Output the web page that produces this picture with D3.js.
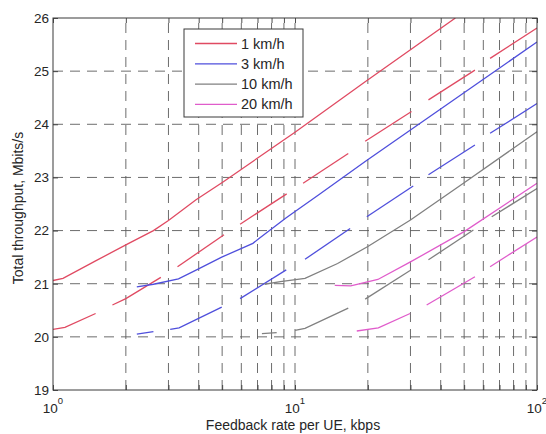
<!DOCTYPE html>
<html>
<head>
<meta charset="utf-8">
<script src="https://cdn.jsdelivr.net/npm/d3@7"></script>
<style>
  html, body { margin: 0; padding: 0; background: #fff; }
  svg { display: block; font-family: "Liberation Sans", Arial, Helvetica, sans-serif; }
</style>
</head>
<body>
<svg id="chart" width="546" height="434"></svg>
<script>
// ---- data -------------------------------------------------------------
const speeds = ["1 km/h", "3 km/h", "10 km/h", "20 km/h"];
const speedColors = ["#e04a62", "#4f4fdc", "#808080", "#e05ccb"];

const xMajorTicks = [1, 10, 100];
const xMinorTicks = [2, 3, 4, 5, 6, 7, 8, 9, 20, 30, 40, 50, 60, 70, 80, 90];
const yTicks = [19, 20, 21, 22, 23, 24, 25, 26];

// solid curves: [feedback rate kbps, throughput Mbit/s]
const solid1kmh = [[1.0, 21.06], [1.1, 21.10], [1.5, 21.43], [2.0, 21.73], [2.6, 22.0], [3.0, 22.19],
  [3.9, 22.58], [5.06, 22.92], [10, 23.85], [19.5, 24.80], [46, 26.0]];
const solid3kmh = [[2.22, 20.94], [2.6, 20.99], [3.3, 21.09], [3.92, 21.26], [4.98, 21.50], [6.7, 21.76],
  [7.1, 21.85], [9.2, 22.24], [12.5, 22.67], [19.5, 23.30], [100, 25.55]];
const solid10kmh = [[7.5, 20.99], [8.7, 21.04], [11.0, 21.10], [15, 21.38], [20, 21.70], [30, 22.2],
  [50, 22.9], [100, 23.86]];
const solid20kmh = [[14.6, 20.97], [17, 20.96], [22, 21.08], [30, 21.41], [50, 21.98], [100, 22.89]];

// dashed curves, stored as their visible pieces
const dashed1kmh = [
  [[1.0, 20.14], [1.12, 20.18], [1.5, 20.44]],
  [[1.76, 20.60], [2.0, 20.72], [2.79, 21.12]],
  [[3.27, 21.32], [5.09, 21.92]],
  [[5.93, 22.12], [9.24, 22.69]],
  [[10.8, 22.89], [16.6, 23.45]],
  [[19.5, 23.68], [30.3, 24.24]],
  [[35.6, 24.46], [55.4, 25.02]],
  [[64, 25.24], [100, 25.81]]
];
const dashed3kmh = [
  [[2.22, 20.05], [2.6, 20.10]],
  [[3.05, 20.14], [3.32, 20.17], [4.98, 20.56]],
  [[5.93, 20.72], [9.2, 21.26]],
  [[11.0, 21.46], [16.9, 22.04]],
  [[19.8, 22.26], [30.8, 22.84]],
  [[35.6, 23.05], [55.4, 23.61]],
  [[64, 23.83], [100, 24.39]]
];
const dashed10kmh = [
  [[7.3, 20.06], [8.4, 20.08]],
  [[10.0, 20.12], [11.0, 20.16], [16.6, 20.54]],
  [[19.5, 20.71], [29.9, 21.25]],
  [[35.6, 21.45], [54.6, 22.01]],
  [[65, 22.26], [100, 22.79]]
];
const dashed20kmh = [
  [[18.0, 20.11], [22.1, 20.17], [29.9, 20.44]],
  [[35, 20.60], [55.4, 21.13]],
  [[64, 21.32], [100, 21.88]]
];

const solidCurves = [solid1kmh, solid3kmh, solid10kmh, solid20kmh];
const dashedCurves = [dashed1kmh, dashed3kmh, dashed10kmh, dashed20kmh];

// ---- layout -----------------------------------------------------------
const margin = { left: 53, right: 9, top: 18, bottom: 44 };
const W = 546, H = 434;
const plotW = W - margin.left - margin.right;
const plotH = H - margin.top - margin.bottom;

const svg = d3.select("#chart");
svg.append("rect").attr("width", W).attr("height", H).attr("fill", "#fff");

const x = d3.scaleLog().domain([1, 100]).range([0, plotW]);
const y = d3.scaleLinear().domain([19, 26]).range([plotH, 0]);

const g = svg.append("g").attr("transform", `translate(${margin.left},${margin.top})`);

svg.append("defs").append("clipPath").attr("id", "plotclip")
  .append("rect").attr("width", plotW).attr("height", plotH);

// ---- grid -------------------------------------------------------------
const gridColor = "#5c5c5c";
const gridDash = "10,7";
const grid = g.append("g").attr("class", "grid");
grid.selectAll("line.vgrid")
  .data(xMajorTicks.concat(xMinorTicks).filter(v => v > 1 && v < 100))
  .join("line")
  .attr("class", "vgrid")
  .attr("x1", d => x(d)).attr("x2", d => x(d))
  .attr("y1", plotH).attr("y2", 0)
  .attr("stroke", gridColor).attr("stroke-width", 0.9)
  .attr("stroke-dasharray", gridDash);
grid.selectAll("line.hgrid")
  .data(yTicks.filter(v => v > 19 && v < 26))
  .join("line")
  .attr("class", "hgrid")
  .attr("x1", 0).attr("x2", plotW)
  .attr("y1", d => y(d)).attr("y2", d => y(d))
  .attr("stroke", gridColor).attr("stroke-width", 0.9)
  .attr("stroke-dasharray", gridDash);

// ---- curves -----------------------------------------------------------
const line = d3.line().x(d => x(d[0])).y(d => y(d[1]));
const curves = g.append("g").attr("clip-path", "url(#plotclip)");

dashedCurves.forEach((pieces, i) => {
  curves.append("g").selectAll("path")
    .data(pieces)
    .join("path")
    .attr("d", line)
    .attr("fill", "none")
    .attr("stroke", speedColors[i])
    .attr("stroke-width", 1.3);
});
solidCurves.forEach((pts, i) => {
  curves.append("path")
    .datum(pts)
    .attr("d", line)
    .attr("fill", "none")
    .attr("stroke", speedColors[i])
    .attr("stroke-width", 1.3);
});

// ---- axes (ticks point inward, box on all sides) ---------------------
const axisColor = "#3a3a3a";
const tickLen = 5;

function styleAxis(sel) {
  sel.select(".domain").remove();
  sel.selectAll(".tick line").attr("stroke", axisColor).attr("stroke-width", 0.9);
}

const xAllTicks = xMajorTicks.concat(xMinorTicks);

const xBottom = g.append("g").attr("transform", `translate(0,${plotH})`)
  .call(d3.axisBottom(x).tickValues(xAllTicks).tickSize(-tickLen).tickFormat(""));
styleAxis(xBottom);
const xTop = g.append("g")
  .call(d3.axisTop(x).tickValues(xAllTicks).tickSize(-tickLen).tickFormat(""));
styleAxis(xTop);

const yLeft = g.append("g")
  .call(d3.axisLeft(y).tickValues(yTicks).tickSize(-tickLen).tickPadding(4).tickFormat(d3.format("d")));
styleAxis(yLeft);
yLeft.selectAll(".tick text")
  .attr("fill", "#262626").attr("font-size", 13.5)
  .attr("font-family", "'Liberation Sans', Arial, sans-serif");
const yRight = g.append("g").attr("transform", `translate(${plotW},0)`)
  .call(d3.axisRight(y).tickValues(yTicks).tickSize(-tickLen).tickFormat(""));
styleAxis(yRight);

// decade labels 10^n under the bottom axis
const decadeLabels = g.append("g").selectAll("text")
  .data(xMajorTicks)
  .join("text")
  .attr("x", d => x(d))
  .attr("y", plotH + 23)
  .attr("text-anchor", "middle")
  .attr("fill", "#262626")
  .attr("font-size", 13.5);
decadeLabels.append("tspan").text("10");
decadeLabels.append("tspan")
  .attr("dy", -9).attr("font-size", 9.5)
  .text(d => String(Math.round(Math.log10(d))));

// plot frame
g.append("rect")
  .attr("width", plotW).attr("height", plotH)
  .attr("fill", "none").attr("stroke", axisColor).attr("stroke-width", 1);

// axis titles
svg.append("text")
  .attr("x", margin.left + plotW / 2 - 2)
  .attr("y", 430)
  .attr("text-anchor", "middle")
  .attr("fill", "#262626")
  .attr("font-size", 14)
  .text("Feedback rate per UE, kbps");
svg.append("text")
  .attr("transform", `translate(23,${margin.top + plotH / 2 + 4}) rotate(-90)`)
  .attr("text-anchor", "middle")
  .attr("fill", "#262626")
  .attr("font-size", 14)
  .text("Total throughput, Mbits/s");

// ---- legend -----------------------------------------------------------
const legend = svg.append("g").attr("transform", "translate(184,29)");
legend.append("rect")
  .attr("width", 119).attr("height", 88)
  .attr("fill", "#fff").attr("stroke", "#3a3a3a").attr("stroke-width", 1);
const items = legend.selectAll("g.item")
  .data(speeds)
  .join("g")
  .attr("class", "item")
  .attr("transform", (d, i) => `translate(0,${14.5 + i * 20.3})`);
items.append("line")
  .attr("x1", 11).attr("x2", 53)
  .attr("stroke", (d, i) => speedColors[i]).attr("stroke-width", 1.3);
items.append("text")
  .attr("x", 57).attr("y", 5)
  .attr("fill", "#262626")
  .attr("font-size", 14.5)
  .text(d => d);
</script>
</body>
</html>
